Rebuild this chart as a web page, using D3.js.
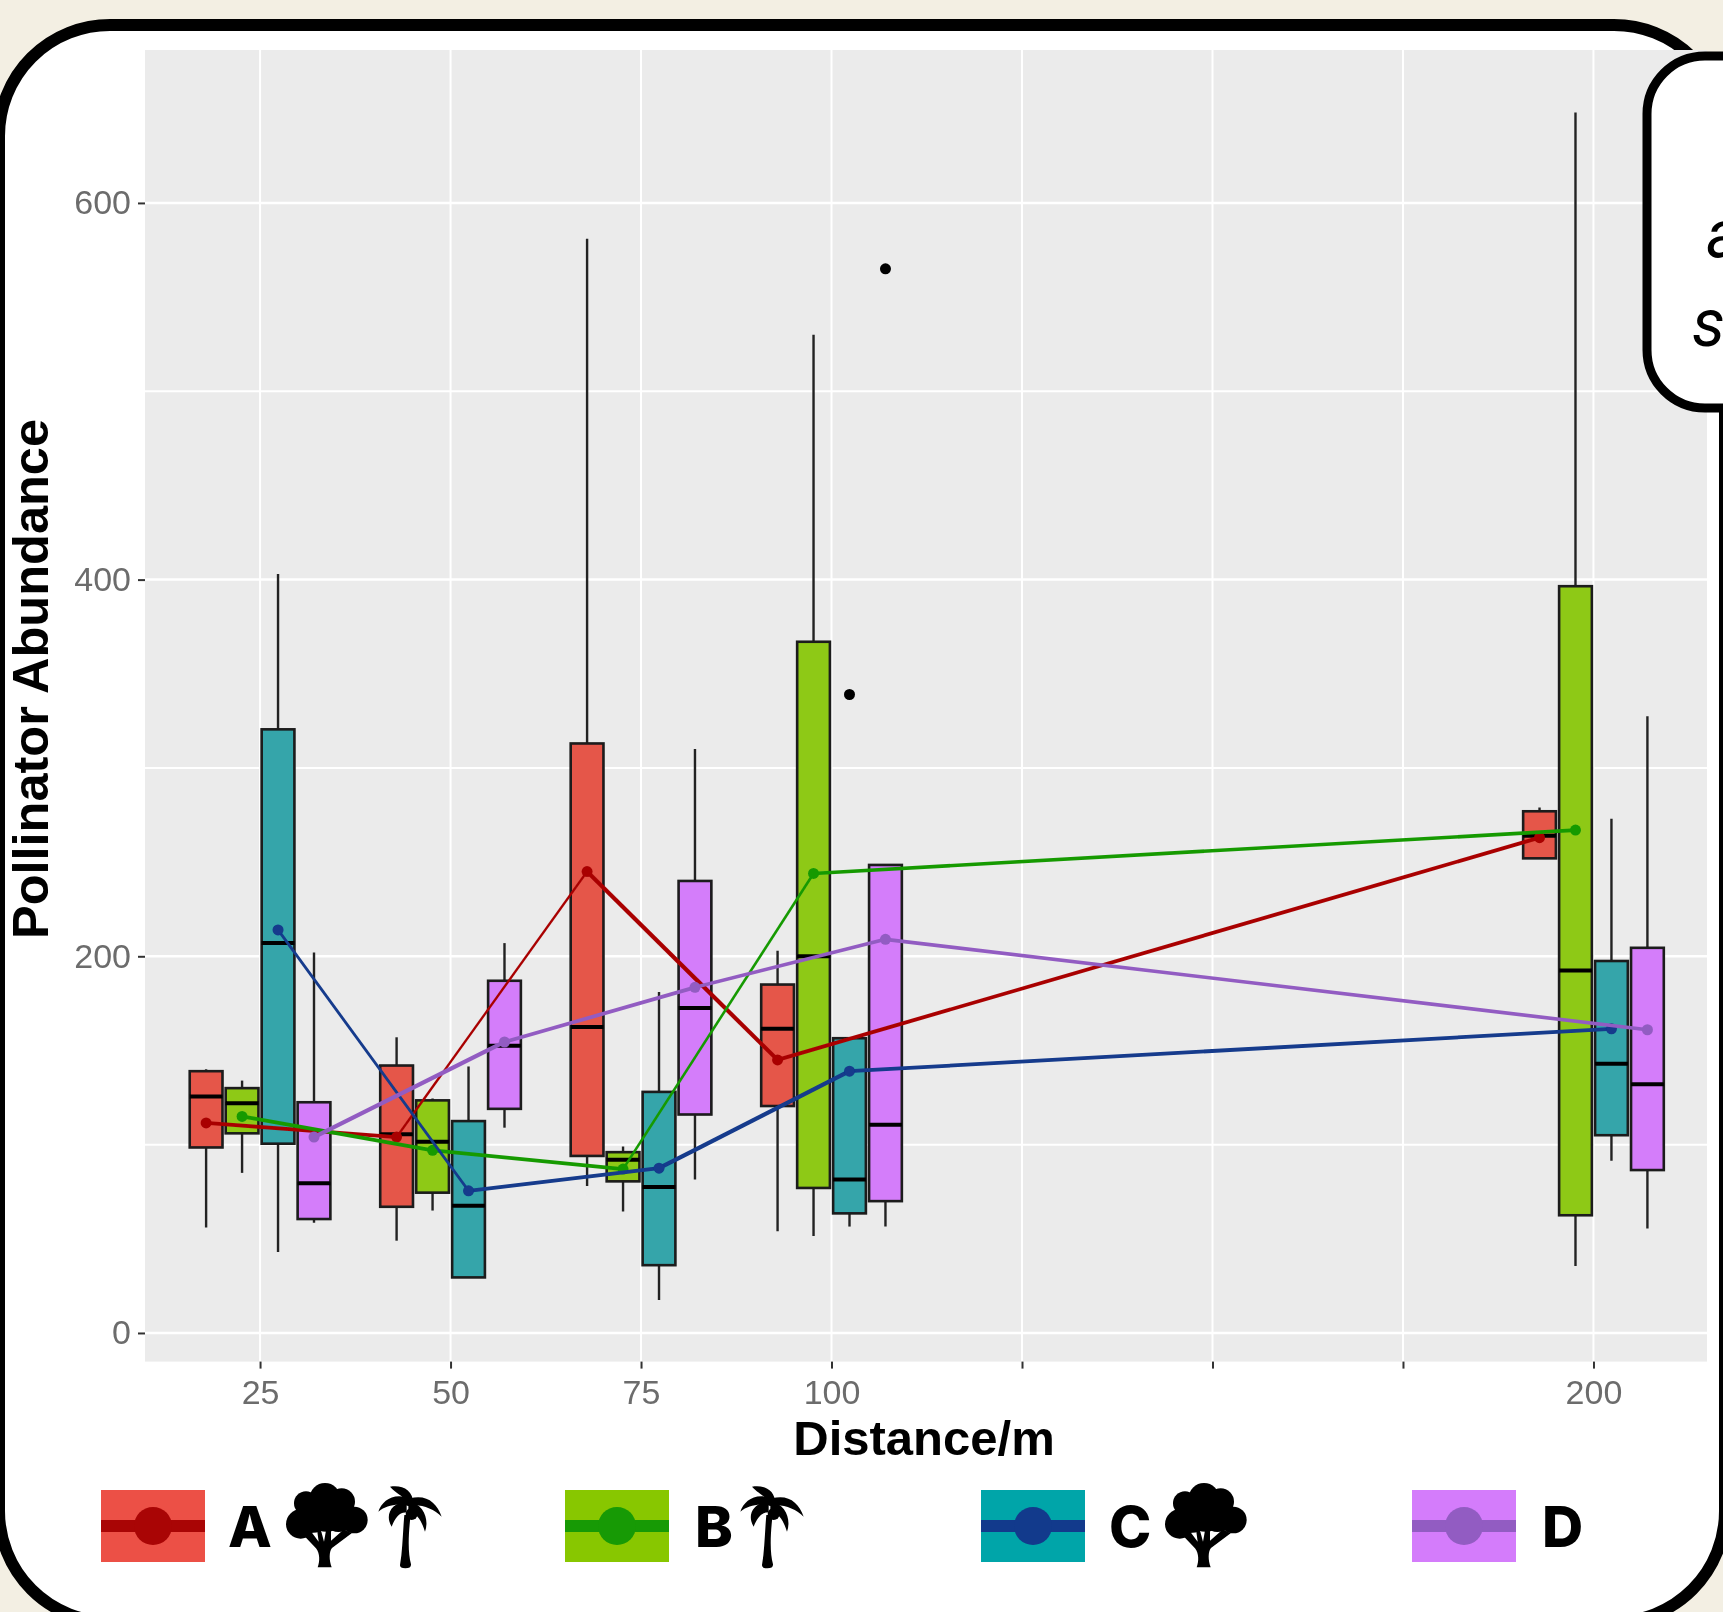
<!DOCTYPE html>
<html>
  <head>
    <title>Pollinator Abundance by Distance</title>
    <meta charset="UTF-8">
    <script src="https://d3js.org/d3.v7.min.js" charset="utf-8"></script>
    <style>
      body { margin: 0; background: #f3efe3; }
      svg { display: block; }
      .tick text { font-family: "Liberation Sans", sans-serif; font-size: 34px; fill: #6c6c6c; }
      .tick line { stroke: #333; stroke-width: 2; }
      .domain { display: none; }
    </style>
  </head>
  <body>
    <svg id="chart" width="1723" height="1612"></svg>
    <script>
      const distances = [25, 50, 75, 100, 200];
      const groupNames = ['A', 'B', 'C', 'D'];

      // each row: whisker low, q1, median, q3, whisker high (one row per distance)
      const boxesA = [[56, 98.5, 125.5, 139, 140], [49, 67, 105.5, 142, 157], [78, 94, 162.5, 313, 581], [54, 120.5, 161.5, 185, 203], [252, 252, 264, 277, 279]];
      const boxesB = [[85, 106, 122, 130, 134], [65, 74.5, 101.5, 123.5, 124.5], [64.5, 80.5, 92, 96, 99], [51.5, 77, 200, 367, 530], [35.5, 62.5, 192.5, 396.5, 648]];
      const boxesC = [[43, 100.5, 207, 320.5, 403], [29.5, 29.5, 67.5, 112.5, 141.5], [17.5, 36, 77.5, 128, 181], [56.5, 63.5, 81.5, 156.5, 156.5], [91.5, 105, 143, 197.5, 273]];
      const boxesD = [[58.5, 60.5, 79.5, 122.5, 202], [109, 119, 152.5, 187, 207], [81.5, 116, 172.5, 240, 310], [56.5, 70, 110.5, 248.5, 248.5], [55.5, 86.5, 132, 204.5, 327.5]];

      const meansA = [111.5, 104, 245, 145, 263];
      const meansB = [115, 97, 87, 244, 267];
      const meansC = [214, 75.5, 87.5, 139, 161.5];
      const meansD = [104, 154.5, 183.5, 209, 161];

      // outliers: [distance index, value]
      const outliersA = [];
      const outliersB = [];
      const outliersC = [[3, 339]];
      const outliersD = [[3, 565]];

      const yTicks = [0, 200, 400, 600];
      const yMinor = [100, 300, 500];
      const xTicks = [25, 50, 75, 100, 125, 150, 175, 200];
      const xLabelled = [25, 50, 75, 100, 200];

      const boxFill = ['#e5574a', '#8ec919', '#35a5aa', '#d47dfa'];
      const swatchFill = ['#ec5046', '#88c700', '#00a5a9', '#d47cfb'];
      const lineColor = ['#a90505', '#179a05', '#123a8c', '#925cc2'];
      // the source image thins the steep rising segments, so widths go per segment
      const segWidth = [[3.8, 2.4, 4.2, 3.8], [3.8, 3.8, 2.6, 3.6], [2.8, 3.8, 4.2, 3.8], [4.2, 3.8, 3.6, 3.6]];

      const allBoxes = [boxesA, boxesB, boxesC, boxesD];
      const allMeans = [meansA, meansB, meansC, meansD];
      const allOutliers = [outliersA, outliersB, outliersC, outliersD];

      const svg = d3.select('#chart');

      // card behind the chart
      svg.append('rect')
        .attr('x', -1).attr('y', 25)
        .attr('width', 1726).attr('height', 1597)
        .attr('rx', 111)
        .attr('fill', 'white')
        .attr('stroke', 'black')
        .attr('stroke-width', 12);

      const defs = svg.append('defs');
      defs.append('filter').attr('id', 'soft')
        .attr('x', 0).attr('y', 0).attr('width', 1723).attr('height', 1612)
        .attr('filterUnits', 'userSpaceOnUse')
        .append('feGaussianBlur').attr('stdDeviation', 0.5);

      const x = d3.scaleLinear().domain([9.9, 214.9]).range([145, 1707]);
      const y = d3.scaleLinear().domain([-15.2, 681.2]).range([1361.6, 50]);

      const dodge = 4.72;   // distance units between neighbouring boxes
      const boxW = 4.3;
      const xPos = (dist, s) => x(dist + (s - 1.5) * dodge);

      const plot = svg.append('g').attr('filter', 'url(#soft)');

      plot.append('rect')
        .attr('x', x.range()[0]).attr('y', y.range()[1])
        .attr('width', x.range()[1] - x.range()[0])
        .attr('height', y.range()[0] - y.range()[1])
        .attr('fill', '#ebebeb');

      plot.selectAll('.minor').data(yMinor).enter().append('line')
        .attr('x1', x.range()[0]).attr('x2', x.range()[1])
        .attr('y1', d => y(d)).attr('y2', d => y(d))
        .attr('stroke', 'white').attr('stroke-width', 2);

      plot.selectAll('.major-y').data(yTicks).enter().append('line')
        .attr('x1', x.range()[0]).attr('x2', x.range()[1])
        .attr('y1', d => y(d)).attr('y2', d => y(d))
        .attr('stroke', 'white').attr('stroke-width', 2.5);

      plot.selectAll('.major-x').data(xTicks).enter().append('line')
        .attr('x1', d => x(d)).attr('x2', d => x(d))
        .attr('y1', y.range()[0]).attr('y2', y.range()[1])
        .attr('stroke', 'white').attr('stroke-width', 2);

      const xAxis = d3.axisBottom(x)
        .tickValues(xTicks)
        .tickSize(7)
        .tickPadding(11)
        .tickFormat(d => xLabelled.includes(d) ? d : '');
      plot.append('g')
        .attr('transform', `translate(0,${y.range()[0]})`)
        .call(xAxis);

      const yAxis = d3.axisLeft(y)
        .tickValues(yTicks)
        .tickSize(7)
        .tickPadding(7);
      plot.append('g')
        .attr('transform', `translate(${x.range()[0]},0)`)
        .call(yAxis);

      // boxes, distance by distance
      distances.forEach((dist, i) => {
        groupNames.forEach((name, s) => {
          const b = allBoxes[s][i];
          const cx = xPos(dist, s);
          const w = x(boxW) - x(0);
          const g = plot.append('g');
          g.append('line')
            .attr('x1', cx).attr('x2', cx)
            .attr('y1', y(b[0])).attr('y2', y(b[4]))
            .attr('stroke', '#222').attr('stroke-width', 2.4);
          g.append('rect')
            .attr('x', cx - w / 2).attr('width', w)
            .attr('y', y(b[3])).attr('height', y(b[1]) - y(b[3]))
            .attr('fill', boxFill[s])
            .attr('stroke', '#1a1a1a').attr('stroke-width', 2.6);
          g.append('line')
            .attr('x1', cx - w / 2).attr('x2', cx + w / 2)
            .attr('y1', y(b[2])).attr('y2', y(b[2]))
            .attr('stroke', 'black').attr('stroke-width', 4);
          allOutliers[s].filter(o => o[0] === i).forEach(o => {
            g.append('circle')
              .attr('cx', cx).attr('cy', y(o[1]))
              .attr('r', 5.5).attr('fill', 'black');
          });
        });
      });

      // mean lines on top
      groupNames.forEach((name, s) => {
        const line = d3.line()
          .x(d => xPos(distances[d.i], s))
          .y(d => y(d.v));
        const pts = allMeans[s].map((v, i) => ({ v, i }));
        d3.pairs(pts).forEach((pair, k) => {
          plot.append('path')
            .attr('d', line(pair))
            .attr('fill', 'none')
            .attr('stroke', lineColor[s])
            .attr('stroke-width', segWidth[s][k]);
        });
        plot.selectAll(`.pt${name}`).data(pts).enter().append('circle')
          .attr('cx', d => xPos(distances[d.i], s))
          .attr('cy', d => y(d.v))
          .attr('r', 5.5)
          .attr('fill', lineColor[s]);
      });

      plot.append('text')
        .attr('x', 924).attr('y', 1455)
        .attr('text-anchor', 'middle')
        .attr('font-family', '"Liberation Sans", sans-serif')
        .attr('font-weight', 700).attr('font-size', 49)
        .text('Distance/m');

      plot.append('text')
        .attr('transform', 'translate(48,679) rotate(-90)')
        .attr('text-anchor', 'middle')
        .attr('font-family', '"Liberation Sans", sans-serif')
        .attr('font-weight', 700).attr('font-size', 50.5)
        .text('Pollinator Abundance');

      // legend
      const legendX = [101, 565, 981, 1412];
      const labelX = [228, 695, 1109, 1542];
      const swatchW = 104;
      const legend = svg.append('g');
      groupNames.forEach((name, s) => {
        legend.append('rect')
          .attr('x', legendX[s]).attr('y', 1490)
          .attr('width', swatchW).attr('height', 72)
          .attr('fill', swatchFill[s]);
        legend.append('rect')
          .attr('x', legendX[s]).attr('y', 1520)
          .attr('width', swatchW).attr('height', 12)
          .attr('fill', lineColor[s]);
        legend.append('circle')
          .attr('cx', legendX[s] + swatchW / 2).attr('cy', 1526)
          .attr('r', 19)
          .attr('fill', lineColor[s]);
        legend.append('text')
          .attr('x', labelX[s]).attr('y', 1547)
          .attr('font-family', 'Inter, sans-serif')
          .attr('font-weight', 800).attr('font-size', 57)
          .text(name);
      });

      // silhouettes, drawn in a 3x local space
      function drawTree(tx) {
        const g = legend.append('g').attr('transform', `translate(${tx},1470) scale(${1 / 3})`);
        [[108, 100, 36], [165, 85, 46], [215, 95, 40], [92, 162, 44], [253, 150, 40], [170, 125, 60], [205, 140, 46], [130, 140, 48]]
          .forEach(c => g.append('circle').attr('cx', c[0]).attr('cy', c[1]).attr('r', c[2]));
        g.append('path').attr('d', 'M143 292L185 292C177 270 177 245 186 234L245 190L222 178L183 212L183 170L170 170L162 215L150 170L140 170L146 215L122 183L103 198L138 235C150 250 150 275 143 292Z');
      }
      function drawPalm(tx) {
        const g = legend.append('g').attr('transform', `translate(${tx},1470) scale(${1 / 3})`);
        g.append('path').attr('d', 'M390 285C398 240 398 190 403 135L422 135C414 200 414 250 423 283Q424 295 406 295Q389 295 390 285Z');
        g.append('path').attr('d', 'M360 50C395 44 430 58 430 102L405 92C398 75 380 72 360 50Z');
        g.append('path').attr('d', 'M325 125C335 92 372 66 418 85L418 108C380 100 350 105 325 125Z');
        g.append('path').attr('d', 'M515 140C500 98 470 72 420 85L412 108C450 100 490 115 515 140Z');
        g.append('path').attr('d', 'M365 170C343 135 365 96 410 96L410 128C388 125 375 145 365 170Z');
        g.append('path').attr('d', 'M465 185C478 150 462 100 415 96L415 128C445 130 455 155 465 185Z');
        g.append('circle').attr('cx', 425).attr('cy', 132).attr('r', 18);
      }
      drawTree(270);
      drawPalm(270);
      drawPalm(632);
      drawTree(1149);

      // callout running off the right edge
      svg.append('rect')
        .attr('x', 1647).attr('y', 56)
        .attr('width', 300).attr('height', 352)
        .attr('rx', 58)
        .attr('fill', 'white')
        .attr('stroke', 'black')
        .attr('stroke-width', 9);
      [['a', 1706, 257], ['s', 1692, 346]].forEach(t => {
        svg.append('text')
          .attr('x', t[1]).attr('y', t[2])
          .attr('font-family', 'Roboto, sans-serif')
          .attr('font-style', 'italic')
          .attr('font-size', 66)
          .text(t[0]);
      });
    </script>
  </body>
</html>
